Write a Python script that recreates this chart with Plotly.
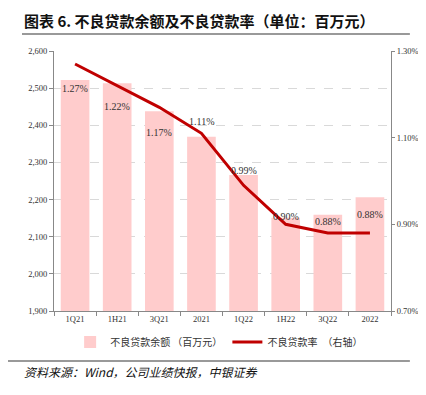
import plotly.graph_objects as go

categories = ["1Q21", "1H21", "3Q21", "2021", "1Q22", "1H22", "3Q22", "2022"]
npl_balance = [2522, 2513, 2438, 2369, 2266, 2151, 2159, 2206]
npl_ratio = [0.0127, 0.0122, 0.0117, 0.0111, 0.0099, 0.0090, 0.0088, 0.0088]
ratio_labels = ["1.27%", "1.22%", "1.17%", "1.11%", "0.99%", "0.90%", "0.88%", "0.88%"]
right_ticks = [0.007, 0.009, 0.011, 0.013]
right_tick_labels = ["0.70%", "0.90%", "1.10%", "1.30%"]
label_yshift = [-24, -21, -25, 12, 15, 8, 12, 19]

serif = "Liberation Serif, Times New Roman, serif"
cjk = "Noto Sans CJK SC"

fig = go.Figure()
fig.add_trace(go.Bar(
    x=categories, y=npl_balance, name="不良贷款余额 （百万元）",
    marker=dict(color="#FFCCCC", line=dict(width=0)), width=0.68,
))
fig.add_trace(go.Scatter(
    x=categories, y=npl_ratio, name="不良贷款率　（右轴）", yaxis="y2",
    mode="lines", line=dict(color="#C00000", width=3),
))

for i, (v, t, s) in enumerate(zip(npl_ratio, ratio_labels, label_yshift)):
    fig.add_annotation(
        x=i, y=v, xref="x", yref="y2", text=t, showarrow=False, yshift=s,
        font=dict(family=serif, size=10, color="#333333"),
    )

# page body has an 8px default margin, so the figure is 8px smaller and margins reduced
fig.update_layout(
    width=418, height=387,
    margin=dict(l=46, r=35, t=43, b=84),
    paper_bgcolor="white", plot_bgcolor="white",
    showlegend=True,
    legend=dict(orientation="h", x=0.49, xanchor="center", y=-0.119, yanchor="middle",
                font=dict(family=cjk, size=10, color="#333333"),
                itemwidth=30, tracegroupgap=0),
    xaxis=dict(
        type="category", categoryorder="array", categoryarray=categories,
        range=[-0.5, len(categories) - 0.5],
        showline=True, linecolor="#888888", linewidth=1,
        ticks="outside", tickson="boundaries", ticklen=4, tickcolor="#888888",
        tickfont=dict(family=serif, size=8.5, color="#333333"),
        showgrid=False,
    ),
    yaxis=dict(
        range=[1900, 2600], dtick=100, tickformat=",",
        showline=True, linecolor="#888888", linewidth=1, automargin=False,
        ticks="outside", ticklen=4, tickcolor="#888888",
        tickfont=dict(family=serif, size=8.5, color="#333333"),
        showgrid=True, gridcolor="#D9D9D9", griddash="dash", gridwidth=1,
        zeroline=False,
    ),
    yaxis2=dict(
        range=[0.007, 0.013], tickvals=right_ticks, ticktext=right_tick_labels,
        overlaying="y", side="right", automargin=False,
        showline=True, linecolor="#888888", linewidth=1,
        ticks="outside", ticklen=3, tickcolor="#888888",
        tickfont=dict(family=serif, size=8.5, color="#333333"),
        showgrid=False, zeroline=False,
    ),
)

fig.add_annotation(
    text="<b>图表 6. 不良贷款余额及不良贷款率（单位：百万元）</b>",
    xref="paper", yref="paper", x=-0.095, y=1.119, xanchor="left", yanchor="middle",
    showarrow=False, font=dict(family=cjk, size=15, color="#111111"),
)
fig.add_shape(type="line", xref="paper", yref="paper", x0=-0.095, x1=1.056,
              y0=1.065, y1=1.065, line=dict(color="#777777", width=1.5))
fig.add_shape(type="line", xref="paper", yref="paper", x0=-0.137, x1=1.056,
              y0=-0.192, y1=-0.192, line=dict(color="#777777", width=1.5))
fig.add_annotation(
    text="<i>资料来源：Wind，公司业绩快报，中银证券</i>",
    xref="paper", yref="paper", x=-0.095, y=-0.231, xanchor="left", yanchor="middle",
    showarrow=False, font=dict(family=cjk, size=12, color="#111111"),
)

fig.write_html("out.html")
